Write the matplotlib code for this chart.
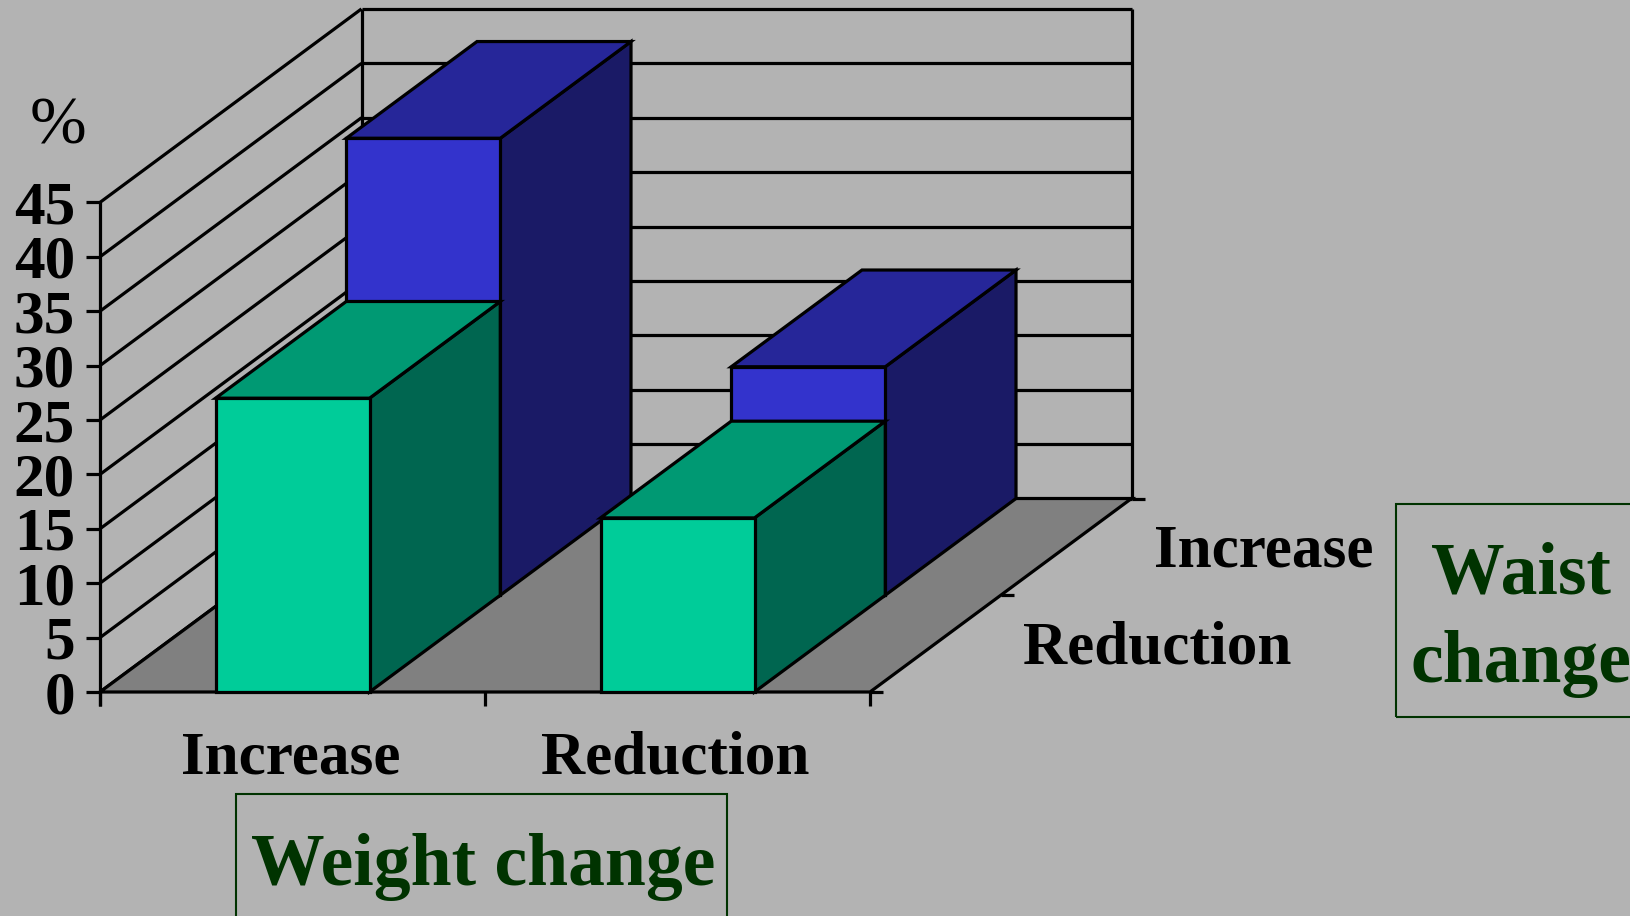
import matplotlib
matplotlib.use('Agg')
import matplotlib.pyplot as plt
from matplotlib.patches import Polygon, Rectangle
from matplotlib.transforms import offset_copy

# weight change categories along the front, waist change series front -> back
weight_change = ['Increase', 'Reduction']
waist_change = ['Reduction', 'Increase']
waist_reduction = [27, 16]
waist_increase = [42, 21]
y_ticks = list(range(0, 50, 5))

bg = '#b3b3b3'
floor_color = '#808080'
# front, top, side shades
green = ('#00cc99', '#009973', '#006650')
blue = ('#3333cc', '#262699', '#1a1a66')
dark_green = '#003300'

plt.rcParams['font.family'] = ['Liberation Serif', 'DejaVu Serif']

W, H = 1630, 916
fig = plt.figure(figsize=(W / 100, H / 100), dpi=100, facecolor=bg)
ax = fig.add_axes([0, 0, 1, 1])
ax.set_facecolor(bg)
ax.axis('off')

# layout of the 3d box in pixels
x0_px, y0_px = 100, 692      # front-left corner at 0 %
cat_px = 385                 # one category wide
unit_px = 10.88              # one percent high
depth_px = (261.5, 193.5)    # shift to the back wall
ax.set_xlim(-x0_px / cat_px, (W - x0_px) / cat_px)
ax.set_ylim(-(H - y0_px) / unit_px, y0_px / unit_px)

ddx = depth_px[0] / cat_px
ddy = depth_px[1] / unit_px
ncat = len(weight_change)
ymax = y_ticks[-1]
lw = 2.3


def proj(x, y, d):
    return (x + d * ddx, y + d * ddy)


def line(p, q, z=1):
    ax.plot([p[0], q[0]], [p[1], q[1]], color='black', lw=lw, zorder=z,
            solid_capstyle='butt')


# side wall and back wall gridlines
for v in y_ticks:
    line(proj(0, v, 0), proj(0, v, 1))
    line(proj(0, v, 1), proj(ncat, v, 1))
line(proj(0, 0, 1), proj(0, ymax, 1))
line(proj(ncat, 0, 1), proj(ncat, ymax, 1))

# floor
floor = Polygon([proj(0, 0, 0), proj(ncat, 0, 0), proj(ncat, 0, 1), proj(0, 0, 1)],
                closed=True, facecolor=floor_color, edgecolor='black', lw=lw, zorder=2)
ax.add_patch(floor)

# value axis with ticks
tick_x = 14 / cat_px
tick_y = 14 / unit_px
line(proj(0, -tick_y, 0), proj(0, ymax, 0), z=2)
for v in y_ticks:
    line(proj(-tick_x, v, 0), proj(0, v, 0), z=2)
for i in range(ncat + 1):
    line(proj(i, 0, 0), proj(i, -tick_y, 0), z=2)
# depth axis ticks
for d in (0, 0.5, 1):
    line(proj(ncat, 0, d), proj(ncat + 13 / cat_px, 0, d), z=2)


def bar3d(xc, h, d0, d1, colors, z):
    xa, xb = xc - 0.2, xc + 0.2
    front, top, side = colors
    faces = [
        ([proj(xb, 0, d0), proj(xb, 0, d1), proj(xb, h, d1), proj(xb, h, d0)], side),
        ([proj(xa, h, d0), proj(xb, h, d0), proj(xb, h, d1), proj(xa, h, d1)], top),
        ([proj(xa, 0, d0), proj(xb, 0, d0), proj(xb, h, d0), proj(xa, h, d0)], front),
    ]
    for pts, c in faces:
        ax.add_patch(Polygon(pts, closed=True, facecolor=c, edgecolor='black',
                             lw=lw, joinstyle='miter', zorder=z))


# back series first, then the front one
for i, h in enumerate(waist_increase):
    bar3d(i + 0.5, h, 0.5, 1.0, blue, 3 + i)
for i, h in enumerate(waist_reduction):
    bar3d(i + 0.5, h, 0.0, 0.5, green, 6 + i)

# tick labels
bold = dict(fontsize=44, fontweight='bold', color='black')
tr = offset_copy(ax.transData, fig=fig, x=-25, y=-21, units='dots')
for v in y_ticks:
    ax.text(*proj(0, v, 0), str(v), transform=tr, ha='right', va='baseline', **bold)

tr = offset_copy(ax.transData, fig=fig, x=-2, y=-82, units='dots')
for i, lab in enumerate(weight_change):
    ax.text(*proj(i + 0.5, 0, 0), lab, transform=tr, ha='center', va='baseline', **bold)

tr = offset_copy(ax.transData, fig=fig, x=88, y=-20, units='dots')
for j, lab in enumerate(waist_change):
    ax.text(*proj(ncat, 0, 0.25 + 0.5 * j), lab, transform=tr, ha='left',
            va='baseline', **bold)

fig.text(58 / W, 1 - 143 / H, '%', ha='center', va='baseline', fontsize=49)

# boxed axis titles
title = dict(fontsize=53, fontweight='bold', color=dark_green, ha='center', va='baseline')
fig.patches.append(Rectangle((236 / W, -0.05), 491 / W, 0.05 + 1 - 794 / H,
                             transform=fig.transFigure, fill=False,
                             edgecolor=dark_green, lw=1.5))
fig.text(483 / W, 1 - 885 / H, 'Weight change', **title)

fig.patches.append(Rectangle((1396 / W, 1 - 717 / H), 300 / W, 213 / H,
                             transform=fig.transFigure, fill=False,
                             edgecolor=dark_green, lw=1.5))
fig.text(1521 / W, 1 - 594 / H, 'Waist', **title)
fig.text(1521 / W, 1 - 682 / H, 'change', **title)

fig.savefig('out.png', dpi=100, facecolor=bg)
